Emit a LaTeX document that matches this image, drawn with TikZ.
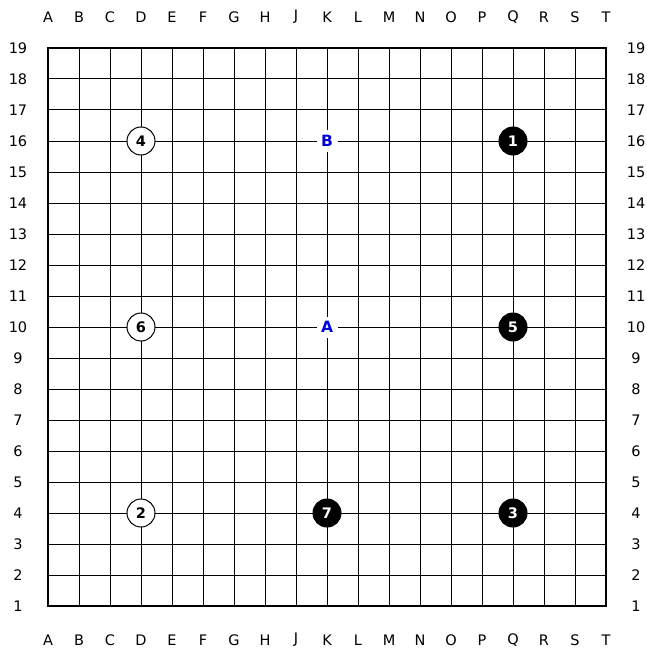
\documentclass[tikz,border=0pt]{standalone}
\usepackage{fontspec}
\setmainfont{DejaVu Sans}
\definecolor{markblue}{RGB}{0,0,220}
\begin{document}
\begin{tikzpicture}[x=1pt,y=-1pt,
  coord/.style={font=\fontsize{14.5}{14.5}\selectfont, inner sep=0pt},
  bstone/.style={circle, fill=black, draw=black, line width=1pt, minimum size=28pt, inner sep=0pt, text=white, font=\fontsize{14.5}{14.5}\selectfont\bfseries},
  wstone/.style={circle, fill=white, draw=black, line width=1pt, minimum size=28pt, inner sep=0pt, text=black, font=\fontsize{14.5}{14.5}\selectfont\bfseries},
  ptlabel/.style={fill=white, inner sep=0pt, minimum size=21pt, text=markblue, font=\fontsize{15.5}{15.5}\selectfont\bfseries}]
\useasboundingbox (0,0) rectangle (647,650);
\fill[white] (0,0) rectangle (647,650);
% grid
\foreach \i in {1,...,17} {
  \draw[line width=1pt] ({48+31*\i},48) -- ({48+31*\i},606);
  \draw[line width=1pt] (48,{48+31*\i}) -- (606,{48+31*\i});
}
\draw[line width=2pt] (48,48) rectangle (606,606);
% column labels
\foreach \l [count=\c from 0] in {A,B,C,D,E,F,G,H,J,K,L,M,N,O,P,Q,R,S,T} {
  \node[coord] (top\l) at ({48+31*\c},17) {\l};
  \node[coord] (bot\l) at ({48+31*\c},640) {\l};
}
% row labels
\foreach \r in {1,...,19} {
  \node[coord] (left\r) at (18,{48+31*(19-\r)}) {\r};
  \node[coord] (right\r) at (636,{48+31*(19-\r)}) {\r};
}
% stones
\node[bstone] (s1) at (513,141) {1};
\node[wstone] (s2) at (141,513) {2};
\node[bstone] (s3) at (513,513) {3};
\node[wstone] (s4) at (141,141) {4};
\node[bstone] (s5) at (513,327) {5};
\node[wstone] (s6) at (141,327) {6};
\node[bstone] (s7) at (327,513) {7};
% marks
\node[ptlabel] (mA) at (327,327) {A};
\node[ptlabel] (mB) at (327,141) {B};
\end{tikzpicture}
\end{document}
